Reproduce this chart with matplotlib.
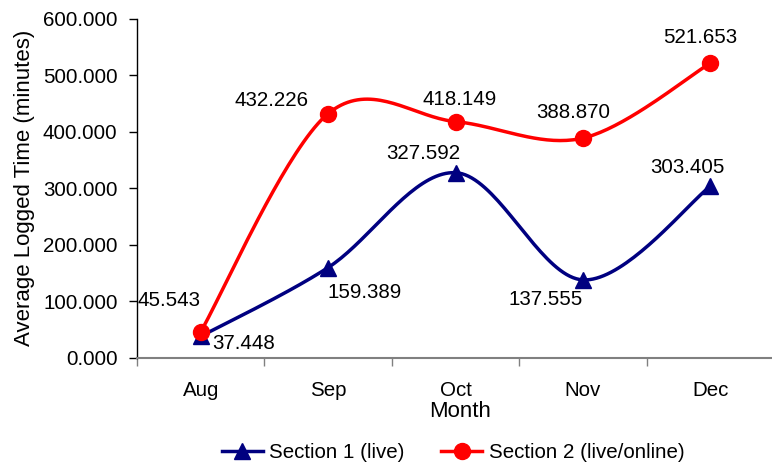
import numpy as np
import matplotlib
matplotlib.use('Agg')
import matplotlib.pyplot as plt
from matplotlib.lines import Line2D

months = ['Aug', 'Sep', 'Oct', 'Nov', 'Dec']
section1 = [37.448, 159.389, 327.592, 137.555, 303.405]
section2 = [45.543, 432.226, 418.149, 388.870, 521.653]
yticks = [0, 100, 200, 300, 400, 500, 600]
series_names = ['Section 1 (live)', 'Section 2 (live/online)']

plt.rcParams['font.family'] = ['Liberation Sans', 'DejaVu Sans']

BLUE = '#000080'
RED = '#FF0000'
FS = 14.8
TFS = 16


def smooth(xs, ys, n=40):
    P = np.column_stack([np.asarray(xs, float), np.asarray(ys, float)])
    out = [P[0]]
    for i in range(len(P) - 1):
        p0 = P[i - 1] if i > 0 else P[i]
        p1 = P[i]
        p2 = P[i + 1]
        p3 = P[i + 2] if i + 2 < len(P) else P[i + 1]
        c1 = p1 + (p2 - p0) / 6
        c2 = p2 - (p3 - p1) / 6
        t = np.linspace(0, 1, n)[1:, None]
        seg = (1 - t) ** 3 * p1 + 3 * (1 - t) ** 2 * t * c1 + 3 * (1 - t) * t ** 2 * c2 + t ** 3 * p2
        out.extend(seg)
    return np.array(out)


fig = plt.figure(figsize=(7.72, 4.63), dpi=100)
W, H = 772, 463
ax = fig.add_axes([137 / W, (H - 357.5) / H, (774 - 137) / W, (357.5 - 19) / H])

x = np.arange(len(months))
lw = 2.5
s1 = smooth(x, section1)
s2 = smooth(x, section2)
ax.plot(s1[:, 0], s1[:, 1], color=BLUE, lw=lw, solid_capstyle='round', zorder=3)
ax.plot(x, section1, linestyle='none', marker='^', ms=12, color=BLUE, zorder=4)
ax.plot(s2[:, 0], s2[:, 1], color=RED, lw=lw, solid_capstyle='round', zorder=3)
ax.plot(x, section2, linestyle='none', marker='o', ms=11.5, color=RED, zorder=4)

off1 = [(11, -7, 'left'), (-1, -24.5, 'left'), (5, 19, 'right'), (0, -20, 'right'), (-23, 19, 'center')]
off2 = [(0, 31, 'right'), (-20, 13.5, 'right'), (4, 22, 'center'), (-10, 25.5, 'center'), (-10, 26, 'center')]
for vals, offs in ((section1, off1), (section2, off2)):
    for xi, v, (dx, dy, ha) in zip(x, vals, offs):
        ax.annotate(f'{v:.3f}', (xi, v), xytext=(dx, dy), textcoords='offset pixels',
                    ha=ha, va='center', fontsize=FS, color='black', zorder=5)

ax.set_xlim(-0.5, len(months) - 0.5)
ax.set_ylim(0, 600)
ax.set_yticks(yticks)
ax.set_yticklabels([f'{v:.3f}' for v in yticks], fontsize=FS)
ax.set_xticks(x)
ax.set_xticklabels(months, fontsize=FS)
ax.set_xticks(np.arange(len(months) + 1) - 0.5, minor=True)
ax.tick_params(axis='x', which='major', length=0, pad=17)
ax.tick_params(axis='x', which='minor', length=6, width=1, color='#808080', direction='out')
ax.tick_params(axis='y', length=6, width=1, direction='out', pad=8)

for s in ('top', 'right'):
    ax.spines[s].set_visible(False)
ax.spines['bottom'].set_color('#808080')
ax.spines['bottom'].set_linewidth(1.5)
ax.spines['left'].set_color('black')
ax.spines['left'].set_linewidth(1)

ax.set_xlabel('Month', fontsize=TFS)
ax.xaxis.set_label_coords((460 - 137) / (774 - 137), -(401 - 357.5) / (357.5 - 19))
ax.set_ylabel('Average Logged Time (minutes)', fontsize=TFS)
ax.yaxis.set_label_coords(-(137 - 35) / (774 - 137), (357.5 - 188) / (357.5 - 19))

handles = [Line2D([], [], color=BLUE, lw=lw, marker='^', ms=12),
           Line2D([], [], color=RED, lw=lw, marker='o', ms=11.5)]
fig.legend(handles, series_names, loc='center', bbox_to_anchor=(453 / W, (H - 453) / H),
           ncol=2, frameon=False, fontsize=FS, handlelength=2.0, handletextpad=0.3,
           columnspacing=1.8, borderaxespad=0, borderpad=0)

fig.savefig('out.png', dpi=100)
